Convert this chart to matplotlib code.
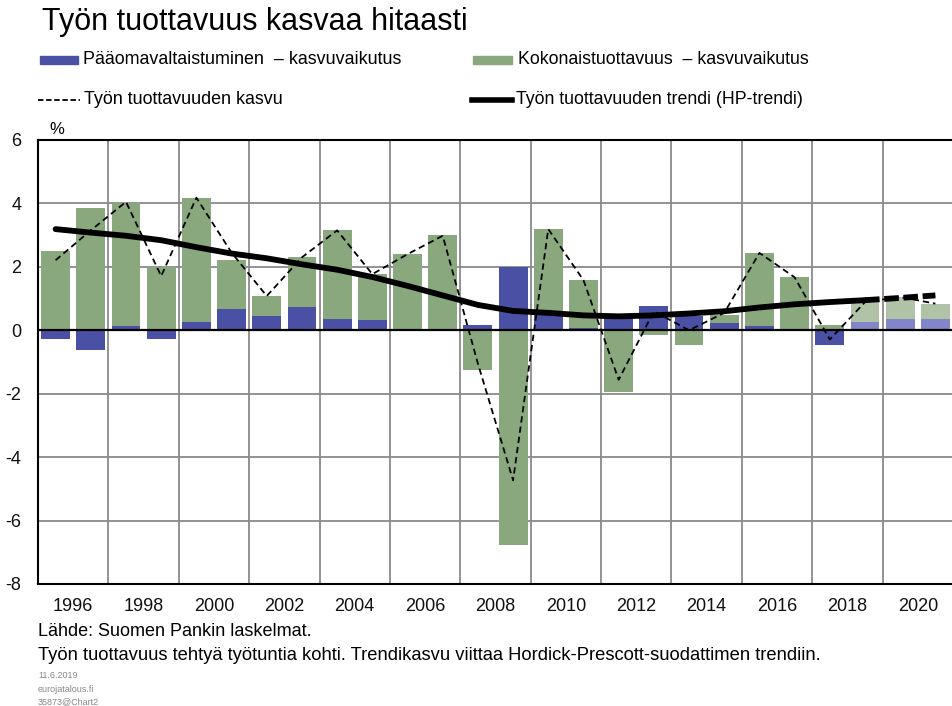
import numpy as np
import matplotlib
matplotlib.use('Agg')
import matplotlib.pyplot as plt
from matplotlib.patches import Rectangle
from matplotlib.lines import Line2D

plt.rcParams['font.family'] = ['Liberation Sans', 'DejaVu Sans']

# --------- data
years = list(range(1996, 2022))
forecast_from = 2019

# capital deepening contribution (blue)
capital = [-0.29, -0.63, 0.13, -0.29, 0.26, 0.67, 0.44, 0.74, 0.37, 0.31,
           0.05, 0.02, 0.18, 2.01, 0.58, 0.06, 0.40, 0.76, 0.44, 0.23,
           0.13, 0.03, -0.47, 0.26, 0.37, 0.37]
# total factor productivity contribution (green)
tfp = [2.50, 3.86, 3.87, 2.00, 3.90, 1.56, 0.64, 1.56, 2.78, 1.46,
       2.34, 2.97, -1.26, -6.78, 2.61, 1.52, -1.95, -0.16, -0.45, 0.26,
       2.31, 1.64, 0.17, 0.63, 0.68, 0.47]
# labour productivity growth (thin dashed)
growth = [2.21, 3.15, 4.05, 1.71, 4.18, 2.45, 1.08, 2.30, 3.15, 1.77,
          2.40, 2.98, -1.05, -4.73, 3.19, 1.58, -1.56, 0.60, 0.00, 0.55,
          2.44, 1.67, -0.29, 0.89, 1.05, 0.84]
# HP trend (thick)
trend = [3.19, 3.08, 2.98, 2.84, 2.62, 2.42, 2.27, 2.08, 1.91, 1.68,
         1.40, 1.10, 0.80, 0.61, 0.55, 0.47, 0.44, 0.47, 0.53, 0.60,
         0.72, 0.82, 0.89, 0.95, 1.02, 1.10]

title = 'Työn tuottavuus kasvaa hitaasti'
lbl_capital = 'Pääomavaltaistuminen  – kasvuvaikutus'
lbl_tfp = 'Kokonaistuottavuus  – kasvuvaikutus'
lbl_growth = 'Työn tuottavuuden kasvu'
lbl_trend = 'Työn tuottavuuden trendi (HP-trendi)'
source = 'Lähde: Suomen Pankin laskelmat.'
note = 'Työn tuottavuus tehtyä työtuntia kohti. Trendikasvu viittaa Hordick-Prescott-suodattimen trendiin.'
stamp = ['11.6.2019', 'eurojatalous.fi', '35873@Chart2']

blue = '#4a50a3'
green = '#8aa87e'
blue_fc = '#8285c8'
green_fc = '#b0c3a6'

# --------- figure
W, H = 953, 706
fig = plt.figure(figsize=(W / 100, H / 100), dpi=100)
ax = fig.add_axes([38 / W, 1 - 584 / H, 1 - 38 / W, 444 / H])

x = np.arange(len(years))
capital = np.array(capital)
tfp = np.array(tfp)
is_fc = np.array(years) >= forecast_from
c_blue = [blue_fc if f else blue for f in is_fc]
c_green = [green_fc if f else green for f in is_fc]

# excel style stacking: positives go up, negatives go down
cap_bottom = np.zeros(len(x))
tfp_bottom = np.where(tfp >= 0, np.clip(capital, 0, None), np.clip(capital, None, 0))

bw = 0.82
ax.bar(x, capital, bw, bottom=cap_bottom, color=c_blue, zorder=2)
ax.bar(x, tfp, bw, bottom=tfp_bottom, color=c_green, zorder=2)

ax.plot(x, growth, color='black', lw=1.3, ls=(0, (3.5, 2.2)), zorder=4)

n_hist = int(np.sum(~is_fc)) + 1
ax.plot(x[:n_hist], trend[:n_hist], color='black', lw=4.2, solid_capstyle='round', zorder=5)
ax.plot(x[n_hist - 1:], trend[n_hist - 1:], color='black', lw=4.2, ls=(0, (2.5, 0.8)),
        zorder=5)

ax.axhline(0, color='black', lw=1.6, zorder=3)

ax.set_ylim(-8, 6)
ax.set_xlim(-0.5, -0.5 + (W - 38) / 35.5)
ax.set_yticks(np.arange(-8, 7, 2))
ax.set_yticklabels([str(v) for v in range(-8, 7, 2)])
ax.set_xticks(np.arange(-0.5, len(x), 2))
ax.set_xticklabels([])
ax.set_xticks(np.arange(0.5, len(x), 2), minor=True)
ax.set_xticklabels([str(y) for y in years[::2]], minor=True)
ax.tick_params(axis='both', which='both', length=0, labelsize=13, colors='#111111')
ax.tick_params(axis='x', which='minor', pad=10)
ax.tick_params(axis='y', pad=12)
ax.grid(True, which='major', color='#8a8a8a', lw=1.3, zorder=0)
ax.set_axisbelow(True)
for s in ['left', 'top', 'bottom']:
    ax.spines[s].set_color('black')
    ax.spines[s].set_linewidth(1.5)
ax.spines['right'].set_visible(False)

ax.text(0.012, 1.006, '%', transform=ax.transAxes, fontsize=12, va='bottom', ha='left')

# --------- title and legend
fig.text(42 / W, 1 - 22 / H, title, fontsize=22, va='center', ha='left')


def fy(py):
    return 1 - py / H


fig.add_artist(Rectangle((40 / W, fy(64)), 38 / W, 8 / H, color=blue, transform=fig.transFigure))
fig.text(83 / W, fy(60), lbl_capital, fontsize=12.9, va='center')
fig.add_artist(Rectangle((473 / W, fy(64)), 39 / W, 8 / H, color=green, transform=fig.transFigure))
fig.text(518 / W, fy(60), lbl_tfp, fontsize=12.8, va='center')
fig.add_artist(Line2D([38 / W, 80 / W], [fy(100), fy(100)], color='black', lw=1.3,
                      ls=(0, (3, 1.5)), transform=fig.transFigure))
fig.text(84 / W, fy(99), lbl_growth, fontsize=12.9, va='center')
fig.add_artist(Line2D([472 / W, 512 / W], [fy(100), fy(100)], color='black', lw=4,
                      transform=fig.transFigure))
fig.text(516 / W, fy(99), lbl_trend, fontsize=12.8, va='center')

# --------- footer
fig.text(38 / W, fy(632), source, fontsize=13, va='center')
fig.text(38 / W, fy(655), note, fontsize=13.2, va='center')
for i, s in enumerate(stamp):
    fig.text(38 / W, fy(676 + 13 * i), s, fontsize=6.5, color='#888888', va='center')

fig.savefig('out.png', dpi=100)
